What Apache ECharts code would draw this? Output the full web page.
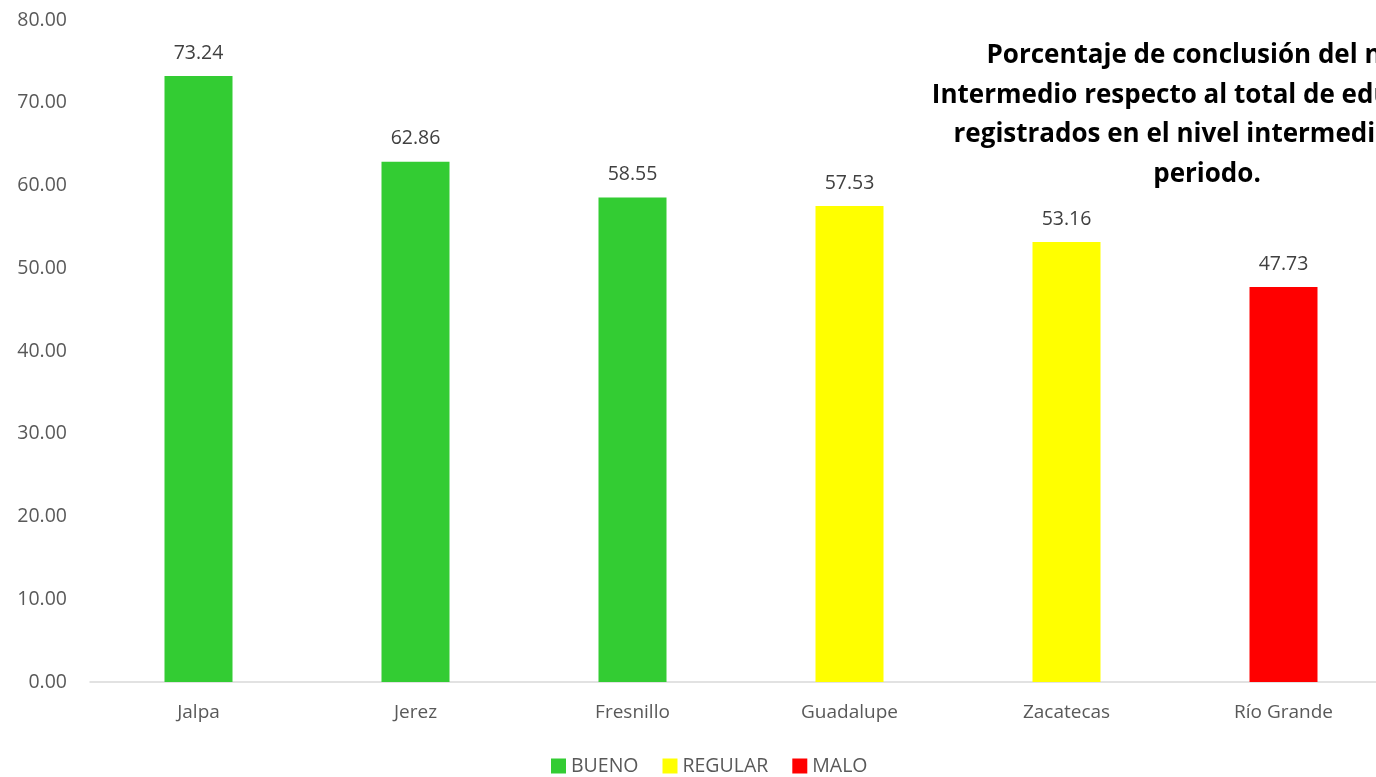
<!DOCTYPE html>
<html>
<head>
<meta charset="utf-8">
<script src="https://cdn.jsdelivr.net/npm/echarts@6/dist/echarts.min.js"></script>
<style>
  html, body { margin: 0; padding: 0; background: #fff; }
  #grafica { width: 1376px; height: 777px; }
</style>
</head>
<body>
<div id="grafica"></div>
<script>
// datos de la grafica
const municipios = ["Jalpa", "Jerez", "Fresnillo", "Guadalupe", "Zacatecas", "Río Grande"];
const porcentajes = [73.24, 62.86, 58.55, 57.53, 53.16, 47.73];
const categoriaMunicipio = ["BUENO", "BUENO", "BUENO", "REGULAR", "REGULAR", "MALO"];
const categorias = ["BUENO", "REGULAR", "MALO"];
const colores = { BUENO: "#33CC33", REGULAR: "#FFFF00", MALO: "#FF0000" };
const titulo = "Porcentaje de conclusión del nivel\nIntermedio respecto al total de educandos\nregistrados en el nivel intermedio en el\nperiodo.";

const fuente = "'Open Sans', 'Noto Sans', sans-serif";

let myChart = echarts.init(document.getElementById("grafica"));

// una serie por categoria, con huecos donde no aplica
let series = categorias.map(cat => ({
  name: cat,
  type: "bar",
  barWidth: 68,
  barGap: "-100%",
  itemStyle: { color: colores[cat] },
  label: {
    show: true,
    position: "top",
    distance: 13,
    color: "#404040",
    fontSize: 19.5,
    fontFamily: fuente,
    formatter: p => p.value.toFixed(2)
  },
  data: porcentajes.map((v, i) => categoriaMunicipio[i] == cat ? v : null)
}));

let option = {
  animation: false,
  textStyle: { fontFamily: fuente },
  title: {
    text: titulo,
    left: 1202,
    top: 31,
    textAlign: "center",
    textStyle: {
      fontFamily: fuente,
      fontSize: 26,
      fontWeight: "bold",
      color: "#000",
      lineHeight: 39.5
    }
  },
  legend: {
    data: categorias,
    bottom: -4,
    left: 546,
    icon: "rect",
    itemWidth: 15,
    itemHeight: 15,
    itemGap: 24,
    textStyle: { color: "#595959", fontSize: 19.5, fontFamily: fuente }
  },
  grid: {
    left: 90,
    top: 20,
    width: 1302,
    bottom: 95,
    outerBoundsMode: "none",
    containLabel: false
  },
  xAxis: {
    type: "category",
    data: municipios,
    axisTick: { show: false },
    axisLine: { lineStyle: { color: "#D9D9D9", width: 1.5 } },
    axisLabel: { color: "#595959", fontSize: 19, margin: 21, fontFamily: fuente }
  },
  yAxis: {
    type: "value",
    min: 0,
    max: 80,
    interval: 10,
    splitLine: { show: false },
    axisLine: { show: false },
    axisTick: { show: false },
    axisLabel: {
      color: "#595959",
      fontSize: 19.5,
      margin: 23,
      fontFamily: fuente,
      formatter: v => v.toFixed(2)
    }
  },
  series: series
};

myChart.setOption(option);
</script>
</body>
</html>
